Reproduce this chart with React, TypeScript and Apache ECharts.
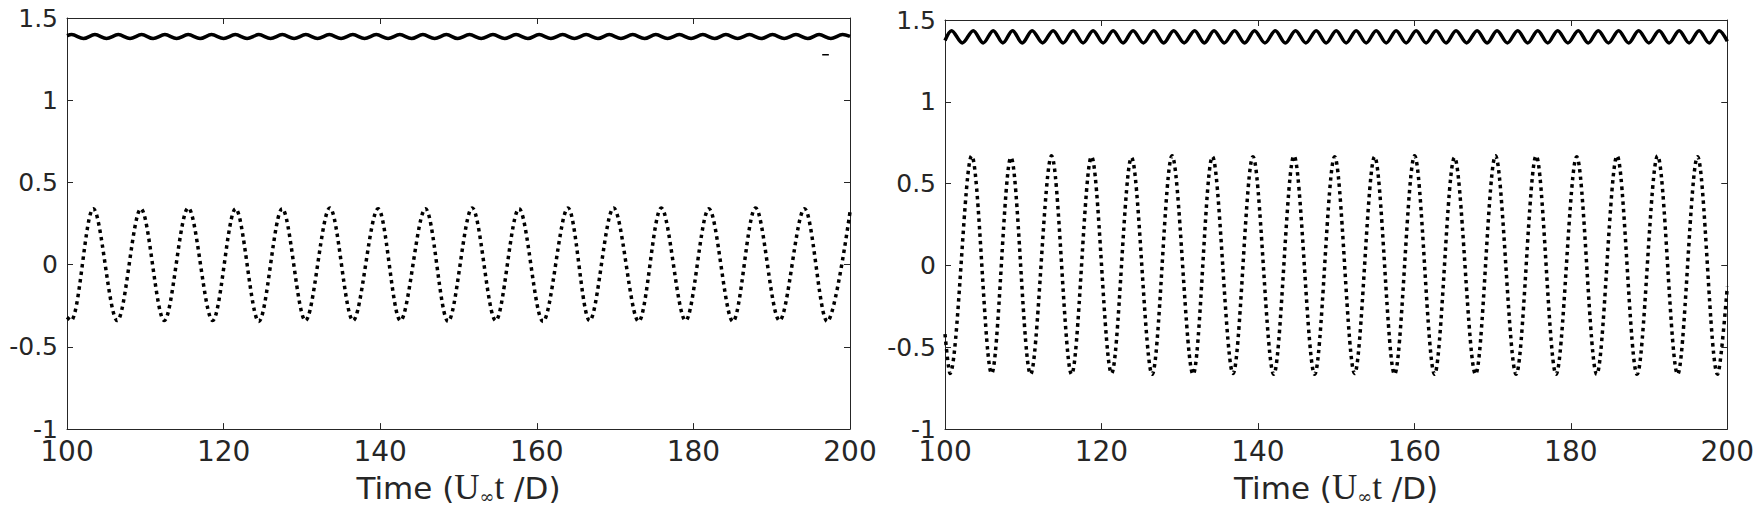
import React, { useEffect, useRef } from "react";
import * as echarts from "echarts";

// ---- Data (time, value) ----
// Left panel: dotted oscillation (extrema)
const leftDotted: [number, number][] = [
  [100, -0.32], [100.5, -0.34], [103.36, 0.34], [106.42, -0.34], [109.44, 0.34],
  [112.42, -0.34], [115.48, 0.345], [118.6, -0.34], [121.53, 0.34], [124.5, -0.345],
  [127.48, 0.34], [130.46, -0.34], [133.57, 0.345], [136.54, -0.34], [139.73, 0.34],
  [142.59, -0.34], [145.78, 0.34], [148.67, -0.345], [151.75, 0.345], [154.75, -0.34],
  [157.73, 0.34], [160.79, -0.345], [163.98, 0.345], [166.75, -0.34], [169.81, 0.345],
  [173.0, -0.345], [175.9, 0.345], [179.0, -0.34], [181.98, 0.34], [185.04, -0.345],
  [187.94, 0.345], [191.0, -0.34], [194.19, 0.34], [197.09, -0.345], [200, 0.32],
];

// Left panel: solid line near 1.39 (extrema)
const leftSolid: [number, number][] = [
  [100, 1.392], [100.6, 1.399], [102.1, 1.375], [103.57, 1.399], [105.05, 1.375],
  [106.55, 1.399], [108.05, 1.375], [109.53, 1.399], [111.0, 1.375], [112.51, 1.399],
  [114.0, 1.375], [115.48, 1.399], [117.0, 1.375], [118.46, 1.399], [120.0, 1.375],
  [121.5, 1.399], [123.0, 1.375], [124.5, 1.399], [126.0, 1.375], [127.5, 1.399],
  [129.0, 1.375], [130.5, 1.399], [132.0, 1.375], [133.5, 1.399], [135.0, 1.375],
  [136.5, 1.399], [138.0, 1.375], [139.5, 1.399], [141.0, 1.375], [142.5, 1.399],
  [144.0, 1.375], [145.45, 1.399], [146.95, 1.375], [148.45, 1.399], [149.9, 1.375],
  [151.4, 1.399], [152.9, 1.375], [154.4, 1.399], [155.9, 1.375], [157.35, 1.399],
  [158.85, 1.375], [160.3, 1.399], [161.8, 1.375], [163.3, 1.399], [164.8, 1.375],
  [166.3, 1.399], [167.8, 1.375], [169.25, 1.399], [170.75, 1.375], [172.25, 1.399],
  [173.75, 1.375], [175.2, 1.399], [176.7, 1.375], [178.2, 1.399], [179.7, 1.375],
  [181.2, 1.399], [182.7, 1.375], [184.15, 1.399], [185.65, 1.375], [187.15, 1.399],
  [188.65, 1.375], [190.1, 1.399], [191.6, 1.375], [193.1, 1.399], [194.6, 1.375],
  [196.05, 1.399], [197.55, 1.375], [199.05, 1.399], [200, 1.388],
];

// Left panel: small stray dash
const leftDash: [number, number][] = [[196.45, 1.276], [197.3, 1.276]];

// Right panel: dotted oscillation (extrema)
const rightDotted: [number, number][] = [
  [100, -0.42], [100.64, -0.66], [103.41, 0.67], [105.96, -0.66], [108.43, 0.66],
  [110.94, -0.665], [113.62, 0.67], [116.18, -0.665], [118.73, 0.665], [121.29, -0.66],
  [123.84, 0.66], [126.48, -0.665], [129.03, 0.67], [131.71, -0.665], [134.19, 0.665],
  [136.82, -0.66], [139.37, 0.665], [142.02, -0.665], [144.61, 0.67], [147.25, -0.665],
  [149.81, 0.665], [152.36, -0.66], [154.92, 0.665], [157.47, -0.665], [160.03, 0.67],
  [162.58, -0.665], [165.13, 0.66], [167.82, -0.665], [170.37, 0.67], [173.01, -0.665],
  [175.57, 0.67], [178.12, -0.665], [180.75, 0.665], [183.31, -0.665], [185.91, 0.67],
  [188.47, -0.665], [191.09, 0.67], [193.65, -0.665], [196.2, 0.665], [198.76, -0.665],
  [200, -0.13],
];

// Right panel: solid line near 1.40 (extrema)
const rightSolid: [number, number][] = [
  [100, 1.375], [100.84, 1.435], [102.22, 1.36], [103.61, 1.435], [104.88, 1.36],
  [106.16, 1.435], [107.4, 1.36], [108.63, 1.435], [109.88, 1.36], [111.14, 1.435],
  [112.48, 1.36], [113.82, 1.435], [115.1, 1.36], [116.38, 1.435], [117.65, 1.36],
  [118.93, 1.435], [120.21, 1.36], [121.49, 1.435], [122.76, 1.36], [124.04, 1.435],
  [125.36, 1.36], [126.68, 1.435], [127.95, 1.36], [129.23, 1.435], [130.57, 1.36],
  [131.91, 1.435], [133.15, 1.36], [134.39, 1.435], [135.7, 1.36], [137.02, 1.435],
  [138.3, 1.36], [139.57, 1.435], [140.9, 1.36], [142.22, 1.435], [143.51, 1.36],
  [144.81, 1.435], [146.13, 1.36], [147.45, 1.435], [148.73, 1.36], [150.01, 1.435],
  [151.28, 1.36], [152.56, 1.435], [153.84, 1.36], [155.12, 1.435], [156.4, 1.36],
  [157.67, 1.435], [158.95, 1.36], [160.23, 1.435], [161.5, 1.36], [162.78, 1.435],
  [164.05, 1.36], [165.33, 1.435], [166.68, 1.36], [168.02, 1.435], [169.3, 1.36],
  [170.57, 1.435], [171.89, 1.36], [173.21, 1.435], [174.49, 1.36], [175.77, 1.435],
  [177.05, 1.36], [178.32, 1.435], [179.63, 1.36], [180.95, 1.435], [182.23, 1.36],
  [183.51, 1.435], [184.81, 1.36], [186.11, 1.435], [187.39, 1.36], [188.67, 1.435],
  [189.98, 1.36], [191.29, 1.435], [192.57, 1.36], [193.85, 1.435], [195.12, 1.36],
  [196.4, 1.435], [197.68, 1.36], [198.96, 1.435], [200, 1.37],
];

const X_MIN = 100;
const X_MAX = 200;
const X_STEP = 20;
const Y_MIN = -1;
const Y_MAX = 1.5;
const Y_STEP = 0.5;
const X_TITLE = "{a|Time (}{b|U}{c|∞}{b|t}{a| /D)}";

const INK = "#262626";
const FONT = "DejaVu Sans";

function bottomX(gridIndex: number) {
  return {
    type: "value",
    gridIndex,
    min: X_MIN,
    max: X_MAX,
    interval: X_STEP,
    position: "bottom",
    axisLine: { show: true, onZero: false, lineStyle: { color: INK, width: 1 } },
    axisTick: { show: true, inside: true, length: 6, lineStyle: { color: INK } },
    axisLabel: { color: INK, fontSize: 28, fontFamily: FONT, margin: 8 },
    splitLine: { show: false },
    name: X_TITLE,
    nameLocation: "middle",
    nameGap: 37,
    nameTextStyle: {
      rich: {
        a: { fontSize: 31, fontFamily: FONT, color: INK },
        b: { fontSize: 35, fontFamily: "Liberation Serif", color: INK },
        c: { fontSize: 18, fontFamily: "DejaVu Serif", color: INK, verticalAlign: "bottom" },
      },
    },
  };
}

function topX(gridIndex: number) {
  return {
    type: "value",
    gridIndex,
    min: X_MIN,
    max: X_MAX,
    interval: X_STEP,
    position: "top",
    axisLine: { show: true, onZero: false, lineStyle: { color: INK, width: 1 } },
    axisTick: { show: true, inside: true, length: 6, lineStyle: { color: INK } },
    axisLabel: { show: false },
    splitLine: { show: false },
  };
}

function leftY(gridIndex: number) {
  return {
    type: "value",
    gridIndex,
    min: Y_MIN,
    max: Y_MAX,
    interval: Y_STEP,
    position: "left",
    axisLine: { show: true, onZero: false, lineStyle: { color: INK, width: 1 } },
    axisTick: { show: true, inside: true, length: 6, lineStyle: { color: INK } },
    axisLabel: { color: INK, fontSize: 25, fontFamily: FONT, margin: 9 },
    splitLine: { show: false },
  };
}

function rightY(gridIndex: number) {
  return {
    type: "value",
    gridIndex,
    min: Y_MIN,
    max: Y_MAX,
    interval: Y_STEP,
    position: "right",
    axisLine: { show: true, onZero: false, lineStyle: { color: INK, width: 1 } },
    axisTick: { show: true, inside: true, length: 6, lineStyle: { color: INK } },
    axisLabel: { show: false },
    splitLine: { show: false },
  };
}

function solidSeries(data: [number, number][], xi: number, yi: number, width: number) {
  return {
    type: "line",
    xAxisIndex: xi,
    yAxisIndex: yi,
    data,
    smooth: 0.33,
    symbol: "none",
    lineStyle: { color: "#000000", width },
    silent: true,
  };
}

function dottedSeries(data: [number, number][], xi: number, yi: number) {
  return {
    type: "line",
    xAxisIndex: xi,
    yAxisIndex: yi,
    data,
    smooth: 0.33,
    symbol: "none",
    lineStyle: { color: "#000000", width: 3.5, type: [3.5, 4], cap: "butt" },
    silent: true,
  };
}

export default function App() {
  const ref = useRef<HTMLDivElement>(null);

  useEffect(() => {
    if (!ref.current) return;
    const chart = echarts.init(ref.current, undefined, { renderer: "svg" });
    chart.setOption({
      animation: false,
      backgroundColor: "#ffffff",
      grid: [
        { left: 67, right: 907, top: 18, bottom: 79, containLabel: false },
        { left: 945, right: 29, top: 20, bottom: 77, containLabel: false },
      ],
      xAxis: [bottomX(0), topX(0), bottomX(1), topX(1)],
      yAxis: [leftY(0), rightY(0), leftY(1), rightY(1)],
      series: [
        solidSeries(leftSolid, 0, 0, 3.5),
        dottedSeries(leftDotted, 0, 0),
        { ...solidSeries(leftDash, 0, 0, 1.5), smooth: false },
        solidSeries(rightSolid, 2, 2, 3.5),
        dottedSeries(rightDotted, 2, 2),
      ],
    });
    return () => chart.dispose();
  }, []);

  return (
    <div
      ref={ref}
      style={{ position: "fixed", left: 0, top: 0, width: 1757, height: 510, background: "#fff" }}
    />
  );
}
